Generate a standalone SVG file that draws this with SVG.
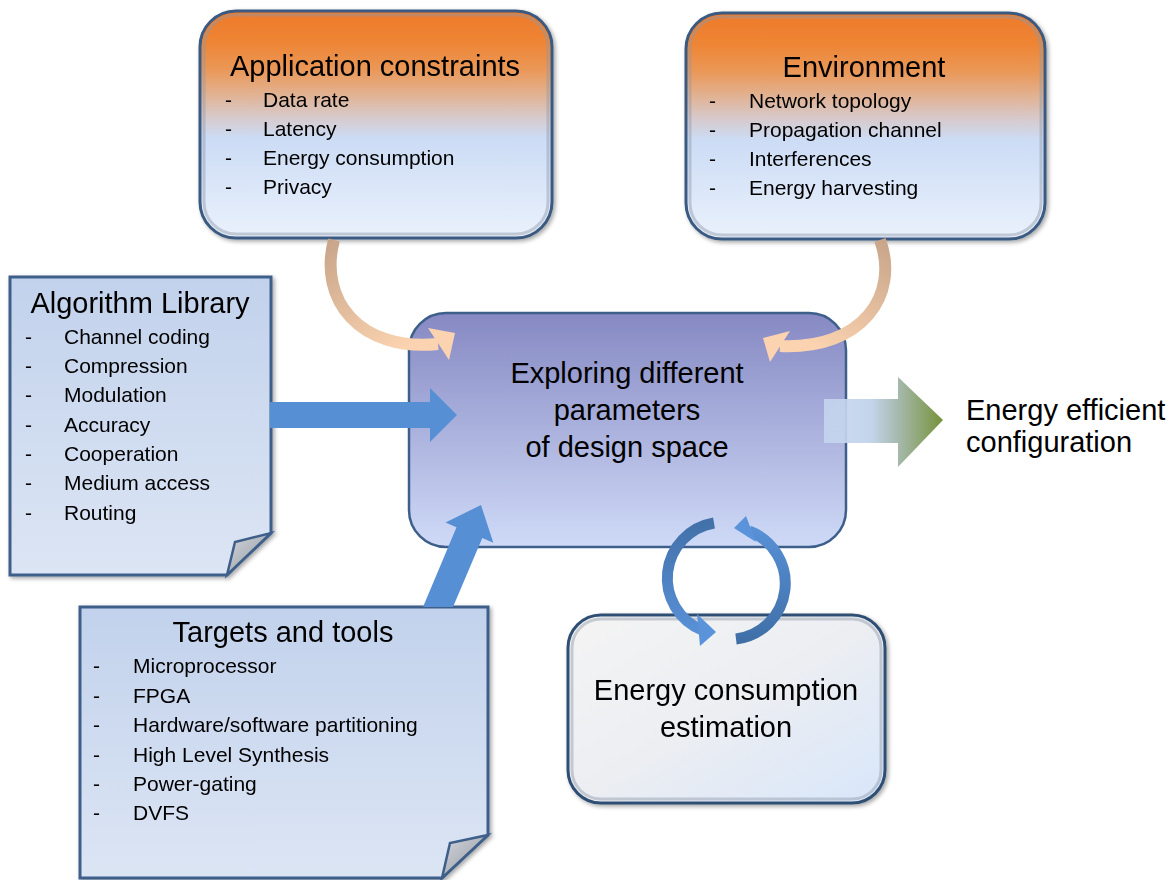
<svg xmlns="http://www.w3.org/2000/svg" width="1175" height="880" viewBox="0 0 1175 880">
<style>
.t{font-family:"Liberation Sans",Arial,sans-serif;fill:#000}
.big{font-size:29px}
.li{font-size:21px}
.box{stroke:#3b5a82;stroke-width:3}
.doc{fill:url(#gDoc);stroke:#3d5f8a;stroke-width:3}
.flap{fill:url(#gFlap);stroke:#3d5f8a;stroke-width:2.5}
.bev{fill:none;stroke:#8f99a8;stroke-width:3;opacity:.45}
</style>
<defs>
<linearGradient id="gTop" x1="0" y1="0" x2="0" y2="1">
<stop offset="0" stop-color="#ee7a2a"/>
<stop offset="0.14" stop-color="#ee8535"/>
<stop offset="0.26" stop-color="#ea9858"/>
<stop offset="0.36" stop-color="#e2b08e"/>
<stop offset="0.46" stop-color="#d8c8c8"/>
<stop offset="0.56" stop-color="#ccdcf5"/>
<stop offset="1" stop-color="#eaf1fc"/>
</linearGradient>
<linearGradient id="gCen" x1="0" y1="0" x2="0" y2="1">
<stop offset="0" stop-color="#8689c3"/>
<stop offset="1" stop-color="#cfdaf7"/>
</linearGradient>
<linearGradient id="gDoc" x1="0" y1="0" x2="0" y2="1">
<stop offset="0" stop-color="#c2d2ec"/>
<stop offset="1" stop-color="#dce5f4"/>
</linearGradient>
<linearGradient id="gFlap" x1="0" y1="0" x2="1" y2="1">
<stop offset="0" stop-color="#d6d9de"/>
<stop offset="1" stop-color="#8d929b"/>
</linearGradient>
<linearGradient id="gEst" x1="0" y1="0" x2="1" y2="1">
<stop offset="0" stop-color="#f4f4f4"/>
<stop offset="0.5" stop-color="#eceef2"/>
<stop offset="1" stop-color="#d8e6fa"/>
</linearGradient>
<linearGradient id="gOut" gradientUnits="userSpaceOnUse" x1="824" y1="0" x2="943" y2="0">
<stop offset="0" stop-color="#c6d7f0" stop-opacity="0.85"/>
<stop offset="0.4" stop-color="#c4d4ea"/>
<stop offset="0.6" stop-color="#a9bcb4"/>
<stop offset="1" stop-color="#76923a"/>
</linearGradient>
<linearGradient id="gPL" gradientUnits="userSpaceOnUse" x1="330" y1="240" x2="400" y2="350">
<stop offset="0" stop-color="#c8a58a"/>
<stop offset="1" stop-color="#fbd3b0"/>
</linearGradient>
<linearGradient id="gPR" gradientUnits="userSpaceOnUse" x1="885" y1="240" x2="820" y2="350">
<stop offset="0" stop-color="#c8a58a"/>
<stop offset="1" stop-color="#fbd3b0"/>
</linearGradient>
<linearGradient id="gCL" gradientUnits="userSpaceOnUse" x1="0" y1="520" x2="0" y2="640">
<stop offset="0" stop-color="#4270a8"/>
<stop offset="1" stop-color="#5a93da"/>
</linearGradient>
<linearGradient id="gCR" gradientUnits="userSpaceOnUse" x1="0" y1="645" x2="0" y2="520">
<stop offset="0" stop-color="#3f6ea5"/>
<stop offset="1" stop-color="#5a93da"/>
</linearGradient>
<filter id="sh" x="-10%" y="-10%" width="125%" height="125%">
<feDropShadow dx="2" dy="2" stdDeviation="2" flood-color="#000" flood-opacity="0.35"/>
</filter>
</defs>

<g id="app-constraints" filter="url(#sh)">
<rect class="box" x="200" y="11" width="352" height="227" rx="36" fill="url(#gTop)"/>
<rect class="bev" x="204" y="15" width="344" height="219" rx="32"/>
<text class="t big" x="375" y="76" text-anchor="middle">Application constraints</text>
<text class="t li" x="225" y="107">-</text><text class="t li" x="263" y="107">Data rate</text>
<text class="t li" x="225" y="136">-</text><text class="t li" x="263" y="136">Latency</text>
<text class="t li" x="225" y="165">-</text><text class="t li" x="263" y="165">Energy consumption</text>
<text class="t li" x="225" y="194">-</text><text class="t li" x="263" y="194">Privacy</text>
</g>

<g id="environment" filter="url(#sh)">
<rect class="box" x="686" y="13" width="359" height="226" rx="36" fill="url(#gTop)"/>
<rect class="bev" x="690" y="17" width="351" height="218" rx="32"/>
<text class="t big" x="864" y="77" text-anchor="middle">Environment</text>
<text class="t li" x="709" y="108">-</text><text class="t li" x="749" y="108">Network topology</text>
<text class="t li" x="709" y="137">-</text><text class="t li" x="749" y="137">Propagation channel</text>
<text class="t li" x="709" y="166">-</text><text class="t li" x="749" y="166">Interferences</text>
<text class="t li" x="709" y="195">-</text><text class="t li" x="749" y="195">Energy harvesting</text>
</g>

<g id="algorithm-library" filter="url(#sh)">
<path class="doc" d="M10,277 H271 V533 L227,575 H10 Z"/>
<path class="flap" d="M227,575 L235,542 L271,533 Z"/>
<text class="t big" x="140" y="313" text-anchor="middle">Algorithm Library</text>
<text class="t li" x="25" y="344">-</text><text class="t li" x="64" y="344">Channel coding</text>
<text class="t li" x="25" y="373">-</text><text class="t li" x="64" y="373">Compression</text>
<text class="t li" x="25" y="402">-</text><text class="t li" x="64" y="402">Modulation</text>
<text class="t li" x="25" y="432">-</text><text class="t li" x="64" y="432">Accuracy</text>
<text class="t li" x="25" y="461">-</text><text class="t li" x="64" y="461">Cooperation</text>
<text class="t li" x="25" y="490">-</text><text class="t li" x="64" y="490">Medium access</text>
<text class="t li" x="25" y="520">-</text><text class="t li" x="64" y="520">Routing</text>
</g>

<g id="targets-tools" filter="url(#sh)">
<path class="doc" d="M80,607 H488 V835 L442,878 H80 Z"/>
<path class="flap" d="M442,878 L450,843 L488,835 Z"/>
<text class="t big" x="283" y="642" text-anchor="middle">Targets and tools</text>
<text class="t li" x="93" y="673">-</text><text class="t li" x="133" y="673">Microprocessor</text>
<text class="t li" x="93" y="703">-</text><text class="t li" x="133" y="703">FPGA</text>
<text class="t li" x="93" y="732">-</text><text class="t li" x="133" y="732">Hardware/software partitioning</text>
<text class="t li" x="93" y="762">-</text><text class="t li" x="133" y="762">High Level Synthesis</text>
<text class="t li" x="93" y="791">-</text><text class="t li" x="133" y="791">Power-gating</text>
<text class="t li" x="93" y="820">-</text><text class="t li" x="133" y="820">DVFS</text>
</g>

<g id="design-space">
<rect x="409" y="313" width="437" height="234" rx="37" fill="url(#gCen)" stroke="#3d5f8a" stroke-width="2.5"/>
<text class="t big" x="627" y="383" text-anchor="middle">Exploring different</text>
<text class="t big" x="627" y="420" text-anchor="middle">parameters</text>
<text class="t big" x="627" y="457" text-anchor="middle">of design space</text>
</g>

<g id="energy-estimation" filter="url(#sh)">
<rect x="568" y="615" width="317" height="188" rx="33" fill="url(#gEst)" stroke="#2f4f73" stroke-width="3"/>
<rect class="bev" x="572" y="619" width="309" height="180" rx="29"/>
<text class="t big" x="726" y="700" text-anchor="middle">Energy consumption</text>
<text class="t big" x="726" y="737" text-anchor="middle">estimation</text>
</g>

<g id="energy-efficient">
<text class="t big" x="966" y="420">Energy efficient</text>
<text class="t big" x="966" y="452">configuration</text>
</g>

<g id="connectors">
<path d="M334,240 C318,300 360,352 438,344" fill="none" stroke="url(#gPL)" stroke-width="12"/>
<polygon points="428,328 455,333 449,360" fill="#fbd3b0"/>
<path d="M880,240 C900,295 862,350 780,346" fill="none" stroke="url(#gPR)" stroke-width="12"/>
<polygon points="790,331 763,338 770,362" fill="#fbd3b0"/>
<polygon points="270,402 430,402 430,388 457,415 430,442 430,428 270,428" fill="#568fd4"/>
<polygon points="423,607 456.5,527.2 445.5,522.5 481,505 493.3,542.7 482.3,538 453,607" fill="#568fd4"/>
<polygon points="824,399 898,399 898,377 943,420 898,467 898,443 824,443" fill="url(#gOut)"/>
<path d="M714,523 A56,56 0 0,0 702,630" fill="none" stroke="url(#gCL)" stroke-width="11"/>
<polygon points="697,614 716,632 700,646" fill="#5a93da"/>
<path d="M736,639 A56,56 0 0,0 749,531" fill="none" stroke="url(#gCR)" stroke-width="11"/>
<polygon points="746,516 734,528 756,542" fill="#5a93da"/>
</g>
</svg>
